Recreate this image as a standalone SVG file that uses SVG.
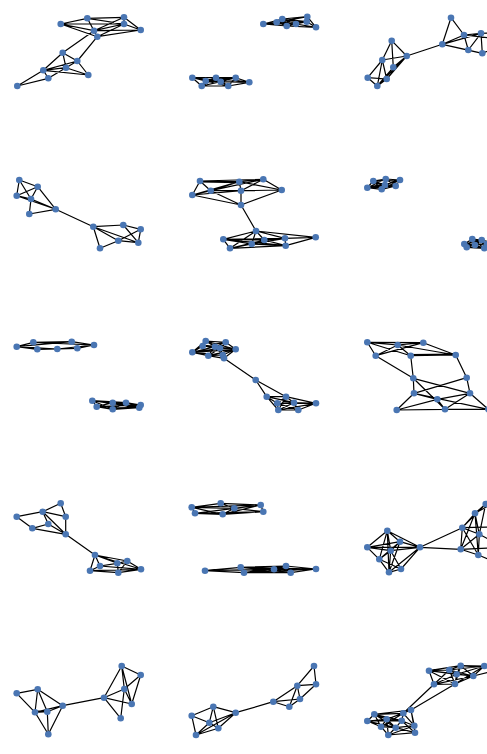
<svg xmlns="http://www.w3.org/2000/svg" width="487" height="754" viewBox="0 0 487 754">
<style>
.e{fill:none;stroke:#000;stroke-width:1.2}
circle{fill:#4a76b3}
</style>
<rect width="487" height="754" fill="#fff"/>
<g id="edges">
<path class="e" d="M60.7 24L87.3 18.3M60.7 24L94 30.7M60.7 24L97.3 36.7M60.7 24L124 24M87.3 18.3L124 17.3M87.3 18.3L94 30.7M87.3 18.3L124 24M124 17.3L124 24M124 17.3L140.7 30M124 17.3L94 30.7M124 24L140.7 30M124 24L94 30.7M124 24L97.3 36.7M140.7 30L97.3 36.7M94 30.7L97.3 36.7M140.7 30L94 30.7M94 30.7L62.7 52.7M97.3 36.7L77.3 61M62.7 52.7L77.3 61M62.7 52.7L43.3 70.3M62.7 52.7L66 67.7M77.3 61L43.3 70.3M77.3 61L66 67.7M77.3 61L88.3 75M43.3 70.3L66 67.7M43.3 70.3L88.3 75M43.3 70.3L48.3 78.3M66 67.7L88.3 75M66 67.7L48.3 78.3M48.3 78.3L17.3 86M43.3 70.3L17.3 86"/>
<path class="e" d="M263.3 24L276.7 22.3M263.3 24L282.3 19M263.3 24L286.7 26M263.3 24L296 24M276.7 22.3L282.3 19M276.7 22.3L286.7 26M276.7 22.3L296 24M276.7 22.3L307.3 16.7M282.3 19L307.3 16.7M282.3 19L306.7 21.7M282.3 19L296 24M286.7 26L296 24M286.7 26L316 27.3M286.7 26L306.7 21.7M296 24L306.7 21.7M296 24L316 27.3M307.3 16.7L306.7 21.7M307.3 16.7L316 27.3M306.7 21.7L316 27.3M282.3 19L286.7 26M276.7 22.3L306.7 21.7M192.3 77.7L205.7 81M192.3 77.7L201.7 86M192.3 77.7L216 77.7M192.3 77.7L220.7 81.7M205.7 81L201.7 86M205.7 81L216 77.7M205.7 81L220.7 81.7M205.7 81L228.3 86M201.7 86L228.3 86M201.7 86L220.7 81.7M201.7 86L216 77.7M216 77.7L220.7 81.7M216 77.7L235.7 77.7M216 77.7L228.3 86M220.7 81.7L235.7 77.7M220.7 81.7L228.3 86M228.3 86L249.3 82.3M235.7 77.7L249.3 82.3M220.7 81.7L249.3 82.3M216 77.7L249.3 82.3M228.3 86L235.7 77.7M205.7 81L235.7 77.7"/>
<path class="e" d="M451 17.7L442.3 44.3M451 17.7L464 35M442.3 44.3L464 35M442.3 44.3L481 33.3M442.3 44.3L468.3 50M442.3 44.3L482.3 53.3M464 35L481 33.3M464 35L468.3 50M468.3 50L481 33.3M481 33.3L482.3 53.3M468.3 50L482.3 53.3M464 35L490 38M481 33.3L490 33M482.3 53.3L490 50M391.7 40.7L406.7 56M391.7 40.7L382.3 60M391.7 40.7L393.3 67.3M382.3 60L406.7 56M382.3 60L367.7 77.7M382.3 60L377.3 86M382.3 60L386.7 79M367.7 77.7L386.7 79M367.7 77.7L377.3 86M377.3 86L386.7 79M377.3 86L406.7 56M386.7 79L406.7 56M393.3 67.3L406.7 56M393.3 67.3L377.3 86M406.7 56L442.3 44.3"/>
<path class="e" d="M19.3 180L37.7 186.7M19.3 180L16.7 195.7M19.3 180L31 199M37.7 186.7L16.7 195.7M37.7 186.7L31 199M37.7 186.7L55.7 209.3M16.7 195.7L31 199M16.7 195.7L55.7 209.3M31 199L29.3 214M31 199L55.7 209.3M29.3 214L55.7 209.3M55.7 209.3L93.3 226.7M93.3 226.7L123.3 225M93.3 226.7L118.3 240.7M93.3 226.7L100 248.3M93.3 226.7L138.3 242.7M100 248.3L118.3 240.7M118.3 240.7L138.3 242.7M118.3 240.7L140.7 229.3M123.3 225L140.7 229.3M123.3 225L138.3 242.7M140.7 229.3L138.3 242.7"/>
<path class="e" d="M200 181L239.3 181.7M200 182L239.3 182.7M200 181L263.3 179.3M200 181L192.3 195M200 181L210.7 190.7M239.3 181.7L263.3 179.3M239.3 181.7L210.7 190.7M239.3 181.7L241 190.7M239.3 181.7L281.7 190M263.3 179.3L281.7 190M263.3 179.3L210.7 190.7M263.3 179.3L241 190.7M192.3 195L210.7 190.7M192.3 195L241 190.7M192.3 195L241 205M210.7 190.7L241 190.7M210.7 190.7L241 205M241 190.7L241 205M281.7 190L241 205M241 190.7L281.7 190M192.3 195L239.3 181.7M241 205L256 231M256 231L223.3 239.3M256 231L230 248.3M256 231L251.7 244M256 231L264.3 240M256 231L285 238.3M256 231L315.7 237.3M223.3 239.3L230 248.3M223.3 239.3L251.7 244M223.3 239.3L264.3 240M223.3 239.3L285 238.3M230 248.3L251.7 244M230 248.3L285.7 245.7M230 248.3L264.3 240M251.7 244L264.3 240M251.7 244L285.7 245.7M251.7 244L285 238.3M264.3 240L285 238.3M264.3 240L285.7 245.7M285 238.3L285.7 245.7M285 238.3L315.7 237.3M285.7 245.7L315.7 237.3M223.3 239.3L285.7 245.7"/>
<path class="e" d="M367.3 187.7L373.3 181M367.3 187.7L381.7 189.3M367.3 187.7L385.7 179M367.3 187.7L385 185M367.3 187.7L395.7 186M367.3 187.7L400 180M373.3 181L381.7 189.3M373.3 181L385.7 179M373.3 181L385 185M373.3 181L395.7 186M373.3 181L400 180M381.7 189.3L385.7 179M381.7 189.3L385 185M381.7 189.3L395.7 186M381.7 189.3L400 180M385.7 179L385 185M385.7 179L395.7 186M385.7 179L400 180M385 185L395.7 186M385 185L400 180M395.7 186L400 180M464.3 244L466.7 247.3M464.3 244L472.3 239M464.3 244L475 245M464.3 244L481.7 240M464.3 244L484.3 248.3M464.3 244L487 244M466.7 247.3L472.3 239M466.7 247.3L475 245M466.7 247.3L481.7 240M466.7 247.3L484.3 248.3M472.3 239L475 245M472.3 239L481.7 240M472.3 239L484.3 248.3M472.3 239L487 244M475 245L481.7 240M475 245L484.3 248.3M475 245L487 244M481.7 240L484.3 248.3M481.7 240L490 242M484.3 248.3L490 247"/>
<path class="e" d="M16.7 346.7L33.3 342.3M16.7 346.7L37.3 349.3M16.7 346.7L71.7 341.7M33.3 342.3L71.7 341.7M33.3 342.3L94 345M37.3 349.3L57.3 349M37.3 349.3L77.3 348.3M57.3 349L77.3 348.3M57.3 349L94 345M71.7 341.7L94 345M77.3 348.3L94 345M16.7 346.7L57.3 349M92.3 400.7L96.7 406.7M92.3 400.7L112.7 402.7M92.3 400.7L112.7 409.3M92.3 400.7L126 402.7M92.3 400.7L140.7 405M96.7 406.7L112.7 402.7M96.7 406.7L112.7 409.3M96.7 406.7L139.3 407.7M96.7 406.7L140.7 405M112.7 402.7L112.7 409.3M112.7 402.7L126 402.7M112.7 402.7L140.7 405M112.7 402.7L139.3 407.7M112.7 409.3L126 402.7M112.7 409.3L139.3 407.7M112.7 409.3L140.7 405M126 402.7L140.7 405M126 402.7L139.3 407.7M140.7 405L139.3 407.7M92.3 400.7L139.3 407.7"/>
<path class="e" d="M192.3 352.3L202.7 346M192.3 352.3L205.7 341M192.3 352.3L208.3 355.7M192.3 352.3L215 346.7M192.3 352.3L222.7 355M192.3 352.3L220 348.3M192.3 352.3L235.7 349.3M202.7 346L205.7 341M202.7 346L215 346.7M202.7 346L225.7 342.3M202.7 346L220 348.3M205.7 341L225.7 342.3M205.7 341L215 346.7M205.7 341L220 348.3M208.3 355.7L215 346.7M208.3 355.7L222.7 355M208.3 355.7L224 358.3M208.3 355.7L220 348.3M215 346.7L222.7 355M215 346.7L225.7 342.3M215 346.7L220 348.3M215 346.7L235.7 349.3M222.7 355L235.7 349.3M222.7 355L224 358.3M222.7 355L220 348.3M225.7 342.3L235.7 349.3M225.7 342.3L220 348.3M220 348.3L235.7 349.3M220 348.3L224 358.3M235.7 349.3L224 358.3M205.7 341L235.7 349.3M208.3 355.7L235.7 349.3M224 358.3L255.7 380M255.7 380L266.7 396.7M255.7 380L286 396.7M266.7 396.7L277.3 403.3M266.7 396.7L278.3 410M266.7 396.7L286 396.7M266.7 396.7L294 402.7M286 396.7L277.3 403.3M286 396.7L294 402.7M286 396.7L316 403.3M286 396.7L278.3 410M277.3 403.3L294 402.7M277.3 403.3L278.3 410M277.3 403.3L298.3 410M277.3 403.3L316 403.3M294 402.7L278.3 410M294 402.7L298.3 410M294 402.7L316 403.3M278.3 410L298.3 410M298.3 410L316 403.3M278.3 410L316 403.3"/>
<path class="e" d="M367.3 342.3L397.7 345M367.3 342.3L423.3 342.7M367.3 342.3L375.7 355.7M367.3 342.3L410.7 355.7M397.7 345L375.7 355.7M397.7 345L423.3 342.7M397.7 345L410.7 355.7M397.7 345L455.7 355M423.3 342.7L375.7 355.7M423.3 342.7L455.7 355M410.7 355.7L455.7 355M410.7 354.7L455.7 354M375.7 355.7L413.3 378.3M410.7 355.7L413.3 378.3M455.7 355L466.7 377.7M413.3 378.3L414 393.3M413.3 378.3L470 393.3M413.3 378.3L445 409.3M466.7 377.7L414 393.3M466.7 377.7L470 393.3M414 393.3L437.3 399.3M414 393.3L396.7 410M414 393.3L488.3 409.3M437.3 399.3L470 393.3M437.3 399.3L396.7 410M437.3 399.3L445 409.3M470 393.3L445 409.3M470 393.3L488.3 409.3M396.7 410L445 409.3M445 409.3L488.3 409.3"/>
<path class="e" d="M16.7 516.7L42.7 511.7M16.7 516.7L32.3 528.3M42.7 511.7L60.7 503.3M42.7 511.7L65.7 516.7M42.7 511.7L48.3 524M42.7 511.7L65.7 534.3M60.7 503.3L65.7 516.7M65.7 516.7L65.7 534.3M32.3 528.3L48.3 524M32.3 528.3L65.7 534.3M48.3 524L65.7 534.3M65.7 534.3L95 555M95 555L100 566M95 555L90 570.7M95 555L117.3 563.3M95 555L127.3 561M95 555L141 569.3M90 570.7L100 566M90 570.7L118.3 572.7M100 566L117.3 563.3M100 566L141 569.3M117.3 563.3L127.3 561M117.3 563.3L118.3 572.7M127.3 561L141 569.3M127.3 561L118.3 572.7M118.3 572.7L141 569.3M90 570.7L141 569.3"/>
<path class="e" d="M191.7 507.3L195 513.3M191.7 507.3L220.7 503.3M191.7 507.3L222.7 514.3M191.7 507.3L234.3 508.3M195 513.3L222.7 514.3M195 513.3L234.3 508.3M220.7 503.3L234.3 508.3M220.7 503.3L260.7 505M222.7 514.3L234.3 508.3M222.7 514.3L263.3 511.7M222.7 514.3L260.7 505M234.3 508.3L260.7 505M234.3 508.3L263.3 511.7M260.7 505L263.3 511.7M195 513.3L263.3 511.7M191.7 507.3L260.7 505M205 570.7L240.7 567.3M205 570.7L244 572.7M205 570.7L274 569.3M240.7 567.3L244 572.7M240.7 567.3L274 569.3M240.7 567.3L286 566M240.7 567.3L290.7 572.7M240.7 567.3L316 569M244 572.7L274 569.3M244 572.7L290.7 572.7M244 572.7L286 566M274 569.3L286 566M274 569.3L290.7 572.7M274 569.3L316 569M286 566L290.7 572.7M286 566L316 569M290.7 572.7L316 569M244 572.7L316 569"/>
<path class="e" d="M367.3 547.3L387.3 530.7M367.3 547.3L400 541.7M367.3 547.3L390.7 550.7M367.3 547.3L379.3 559.3M367.3 547.3L420 547.3M387.3 530.7L400 541.7M387.3 530.7L390.7 550.7M387.3 530.7L379.3 559.3M387.3 530.7L389 572.3M387.3 530.7L420 547.3M400 541.7L390.7 550.7M400 541.7L420 547.3M400 541.7L389 572.3M400 541.7L379.3 559.3M390.7 550.7L379.3 559.3M390.7 550.7L389 572.3M390.7 550.7L401 569M390.7 550.7L420 547.3M379.3 559.3L389 572.3M379.3 559.3L401 569M389 572.3L401 569M389 572.3L420 547.3M401 569L420 547.3M420 547.3L462.3 527.7M420 547.3L460.7 549.3M462.3 527.7L475 513.3M462.3 527.7L485.7 504M462.3 527.7L479.3 534.3M462.3 527.7L460.7 549.3M462.3 527.7L478.3 555M462.3 527.7L490 527M475 513.3L485.7 504M475 513.3L479.3 534.3M475 513.3L460.7 549.3M475 513.3L478.3 555M485.7 504L479.3 534.3M479.3 534.3L460.7 549.3M479.3 534.3L478.3 555M460.7 549.3L478.3 555M479.3 534.3L490 540M478.3 555L490 560M460.7 549.3L490 548M475 513.3L490 505"/>
<path class="e" d="M16.7 693.3L37.7 689.3M16.7 693.3L35 712.3M37.7 689.3L35 712.3M37.7 689.3L47.3 711.7M37.7 689.3L62.7 705.7M35 712.3L47.3 711.7M35 711.3L47.3 710.7M35 712.3L62.7 705.7M35 712.3L48.3 734.3M47.3 711.7L62.7 705.7M47.3 711.7L48.3 734.3M62.7 705.7L48.3 734.3M62.7 705.7L104 697.7M104 697.7L121.7 666M104 697.7L124.3 689M104 697.7L131.7 704M104 697.7L120.7 718.3M121.7 666L140.7 675M121.7 666L124.3 689M121.7 666L131.7 704M140.7 675L124.3 689M140.7 675L131.7 704M124.3 689L131.7 704M124.3 689L120.7 718.3"/>
<path class="e" d="M191.7 715.7L213.3 706.7M191.7 715.7L209.3 722.7M191.7 715.7L196 735M213.3 706.7L235.7 712.7M213.3 706.7L209.3 722.7M213.3 706.7L218.3 728.3M209.3 722.7L235.7 712.7M209.3 722.7L196 735M209.3 722.7L218.3 728.3M196 735L218.3 728.3M196 735L235.7 712.7M218.3 728.3L235.7 712.7M235.7 712.7L273.3 701.7M273.3 701.7L289.3 706.7M273.3 701.7L300 699M273.3 701.7L297.3 685.7M289.3 706.7L297.3 685.7M289.3 706.7L300 699M297.3 685.7L314 666M297.3 685.7L316 684.3M314 666L316 684.3M300 699L297.3 685.7M300 699L316 684.3"/>
<path class="e" d="M429 670.7L449.3 670M429 670.7L460.7 665.7M429 670.7L456.7 674.3M429 670.7L473.3 676M429 670.7L434 684.3M429 670.7L455 684M449.3 670L460.7 665.7M449.3 670L456.7 674.3M449.3 670L473.3 676M449.3 670L484.3 666M449.3 670L434 684.3M449.3 670L455 684M460.7 665.7L456.7 674.3M460.7 665.7L473.3 676M460.7 665.7L484.3 666M460.7 665.7L455 684M456.7 674.3L473.3 676M456.7 674.3L484.3 666M456.7 674.3L434 684.3M456.7 674.3L455 684M473.3 676L484.3 666M473.3 676L434 684.3M473.3 676L455 684M484.3 666L455 684M434 684.3L455 684M460.7 665.7L490 668M473.3 676L490 672M484.3 666L490 664M434 684.3L403.3 713.3M455 684L411 710M403.3 713.3L411 710M403.3 713.3L374.3 714.3M403.3 713.3L386.7 719.3M403.3 713.3L401.7 720.7M403.3 713.3L414.3 725.7M403.3 713.3L381 726.7M411 710L374.3 714.3M411 710L386.7 719.3M411 710L414.3 725.7M411 710L415 732.7M374.3 714.3L367.3 721M374.3 714.3L386.7 719.3M374.3 714.3L401.7 720.7M374.3 714.3L381 726.7M374.3 714.3L395.7 727.7M367.3 721L386.7 719.3M367.3 721L381 726.7M367.3 721L401.7 720.7M386.7 719.3L401.7 720.7M386.7 719.3L381 726.7M386.7 719.3L395.7 727.7M386.7 719.3L388.3 735M401.7 720.7L395.7 727.7M401.7 720.7L414.3 725.7M401.7 720.7L415 732.7M381 726.7L395.7 727.7M381 726.7L388.3 735M395.7 727.7L414.3 725.7M395.7 727.7L388.3 735M395.7 727.7L415 732.7M414.3 725.7L415 732.7M388.3 735L415 732.7M388.3 735L414.3 725.7M367.3 721L395.7 727.7"/>
</g>
<g id="p1">
<g id="p1a"><circle cx="60.7" cy="24" r="3.3"/></g>
<g id="p1b"><circle cx="87.3" cy="18.3" r="3.3"/></g>
<g id="p1c"><circle cx="124" cy="17.3" r="3.3"/></g>
<g id="p1d"><circle cx="124" cy="24" r="3.3"/></g>
<g id="p1e"><circle cx="140.7" cy="30" r="3.3"/></g>
<g id="p1f"><circle cx="94" cy="30.7" r="3.3"/></g>
<g id="p1g"><circle cx="97.3" cy="36.7" r="3.3"/></g>
<g id="p1h"><circle cx="62.7" cy="52.7" r="3.3"/></g>
<g id="p1i"><circle cx="77.3" cy="61" r="3.3"/></g>
<g id="p1j"><circle cx="43.3" cy="70.3" r="3.3"/></g>
<g id="p1k"><circle cx="66" cy="67.7" r="3.3"/></g>
<g id="p1l"><circle cx="48.3" cy="78.3" r="3.3"/></g>
<g id="p1m"><circle cx="88.3" cy="75" r="3.3"/></g>
<g id="p1n"><circle cx="17.3" cy="86" r="3.3"/></g>
</g>
<g id="p2">
<g id="p2a"><circle cx="263.3" cy="24" r="3.3"/></g>
<g id="p2b"><circle cx="276.7" cy="22.3" r="3.3"/></g>
<g id="p2c"><circle cx="282.3" cy="19" r="3.3"/></g>
<g id="p2d"><circle cx="286.7" cy="26" r="3.3"/></g>
<g id="p2e"><circle cx="296" cy="24" r="3.3"/></g>
<g id="p2f"><circle cx="307.3" cy="16.7" r="3.3"/></g>
<g id="p2g"><circle cx="306.7" cy="21.7" r="3.3"/></g>
<g id="p2h"><circle cx="316" cy="27.3" r="3.3"/></g>
<g id="p2i"><circle cx="192.3" cy="77.7" r="3.3"/></g>
<g id="p2j"><circle cx="205.7" cy="81" r="3.3"/></g>
<g id="p2k"><circle cx="201.7" cy="86" r="3.3"/></g>
<g id="p2l"><circle cx="216" cy="77.7" r="3.3"/></g>
<g id="p2m"><circle cx="220.7" cy="81.7" r="3.3"/></g>
<g id="p2n"><circle cx="228.3" cy="86" r="3.3"/></g>
<g id="p2o"><circle cx="235.7" cy="77.7" r="3.3"/></g>
<g id="p2p"><circle cx="249.3" cy="82.3" r="3.3"/></g>
</g>
<g id="p3">
<g id="p3a"><circle cx="451" cy="17.7" r="3.3"/></g>
<g id="p3b"><circle cx="442.3" cy="44.3" r="3.3"/></g>
<g id="p3c"><circle cx="464" cy="35" r="3.3"/></g>
<g id="p3d"><circle cx="481" cy="33.3" r="3.3"/></g>
<g id="p3e"><circle cx="468.3" cy="50" r="3.3"/></g>
<g id="p3f"><circle cx="482.3" cy="53.3" r="3.3"/></g>
<g id="p3h"><circle cx="391.7" cy="40.7" r="3.3"/></g>
<g id="p3i"><circle cx="406.7" cy="56" r="3.3"/></g>
<g id="p3j"><circle cx="382.3" cy="60" r="3.3"/></g>
<g id="p3k"><circle cx="393.3" cy="67.3" r="3.3"/></g>
<g id="p3l"><circle cx="367.7" cy="77.7" r="3.3"/></g>
<g id="p3m"><circle cx="386.7" cy="79" r="3.3"/></g>
<g id="p3n"><circle cx="377.3" cy="86" r="3.3"/></g>
</g>
<g id="p4">
<g id="p4a"><circle cx="19.3" cy="180" r="3.3"/></g>
<g id="p4b"><circle cx="37.7" cy="186.7" r="3.3"/></g>
<g id="p4c"><circle cx="16.7" cy="195.7" r="3.3"/></g>
<g id="p4d"><circle cx="31" cy="199" r="3.3"/></g>
<g id="p4e"><circle cx="29.3" cy="214" r="3.3"/></g>
<g id="p4f"><circle cx="55.7" cy="209.3" r="3.3"/></g>
<g id="p4g"><circle cx="93.3" cy="226.7" r="3.3"/></g>
<g id="p4h"><circle cx="123.3" cy="225" r="3.3"/></g>
<g id="p4i"><circle cx="140.7" cy="229.3" r="3.3"/></g>
<g id="p4j"><circle cx="118.3" cy="240.7" r="3.3"/></g>
<g id="p4k"><circle cx="138.3" cy="242.7" r="3.3"/></g>
<g id="p4l"><circle cx="100" cy="248.3" r="3.3"/></g>
</g>
<g id="p5">
<g id="p5a"><circle cx="200" cy="181" r="3.3"/></g>
<g id="p5b"><circle cx="239.3" cy="181.7" r="3.3"/></g>
<g id="p5c"><circle cx="263.3" cy="179.3" r="3.3"/></g>
<g id="p5d"><circle cx="281.7" cy="190" r="3.3"/></g>
<g id="p5e"><circle cx="192.3" cy="195" r="3.3"/></g>
<g id="p5f"><circle cx="210.7" cy="190.7" r="3.3"/></g>
<g id="p5g"><circle cx="241" cy="190.7" r="3.3"/></g>
<g id="p5h"><circle cx="241" cy="205" r="3.3"/></g>
<g id="p5i"><circle cx="256" cy="231" r="3.3"/></g>
<g id="p5j"><circle cx="223.3" cy="239.3" r="3.3"/></g>
<g id="p5k"><circle cx="230" cy="248.3" r="3.3"/></g>
<g id="p5l"><circle cx="251.7" cy="244" r="3.3"/></g>
<g id="p5m"><circle cx="264.3" cy="240" r="3.3"/></g>
<g id="p5n"><circle cx="285" cy="238.3" r="3.3"/></g>
<g id="p5o"><circle cx="285.7" cy="245.7" r="3.3"/></g>
<g id="p5p"><circle cx="315.7" cy="237.3" r="3.3"/></g>
</g>
<g id="p6">
<g id="p6a"><circle cx="367.3" cy="187.7" r="3.3"/></g>
<g id="p6b"><circle cx="373.3" cy="181" r="3.3"/></g>
<g id="p6c"><circle cx="381.7" cy="189.3" r="3.3"/></g>
<g id="p6d"><circle cx="385.7" cy="179" r="3.3"/></g>
<g id="p6e"><circle cx="385" cy="185" r="3.3"/></g>
<g id="p6f"><circle cx="395.7" cy="186" r="3.3"/></g>
<g id="p6g"><circle cx="400" cy="180" r="3.3"/></g>
<g id="p6h"><circle cx="464.3" cy="244" r="3.3"/></g>
<g id="p6i"><circle cx="466.7" cy="247.3" r="3.3"/></g>
<g id="p6j"><circle cx="472.3" cy="239" r="3.3"/></g>
<g id="p6k"><circle cx="475" cy="245" r="3.3"/></g>
<g id="p6l"><circle cx="481.7" cy="240" r="3.3"/></g>
<g id="p6m"><circle cx="484.3" cy="248.3" r="3.3"/></g>
<g id="p6n"><circle cx="487" cy="244" r="3.3"/></g>
</g>
<g id="p7">
<g id="p7a"><circle cx="16.7" cy="346.7" r="3.3"/></g>
<g id="p7b"><circle cx="33.3" cy="342.3" r="3.3"/></g>
<g id="p7c"><circle cx="37.3" cy="349.3" r="3.3"/></g>
<g id="p7d"><circle cx="57.3" cy="349" r="3.3"/></g>
<g id="p7e"><circle cx="71.7" cy="341.7" r="3.3"/></g>
<g id="p7f"><circle cx="77.3" cy="348.3" r="3.3"/></g>
<g id="p7g"><circle cx="94" cy="345" r="3.3"/></g>
<g id="p7h"><circle cx="92.3" cy="400.7" r="3.3"/></g>
<g id="p7i"><circle cx="96.7" cy="406.7" r="3.3"/></g>
<g id="p7j"><circle cx="112.7" cy="402.7" r="3.3"/></g>
<g id="p7k"><circle cx="112.7" cy="409.3" r="3.3"/></g>
<g id="p7l"><circle cx="126" cy="402.7" r="3.3"/></g>
<g id="p7m"><circle cx="140.7" cy="405" r="3.3"/></g>
<g id="p7n"><circle cx="139.3" cy="407.7" r="3.3"/></g>
</g>
<g id="p8">
<g id="p8a"><circle cx="192.3" cy="352.3" r="3.3"/></g>
<g id="p8b"><circle cx="202.7" cy="346" r="3.3"/></g>
<g id="p8c"><circle cx="205.7" cy="341" r="3.3"/></g>
<g id="p8d"><circle cx="208.3" cy="355.7" r="3.3"/></g>
<g id="p8e"><circle cx="215" cy="346.7" r="3.3"/></g>
<g id="p8f"><circle cx="222.7" cy="355" r="3.3"/></g>
<g id="p8g"><circle cx="225.7" cy="342.3" r="3.3"/></g>
<g id="p8h"><circle cx="220" cy="348.3" r="3.3"/></g>
<g id="p8i"><circle cx="235.7" cy="349.3" r="3.3"/></g>
<g id="p8j"><circle cx="224" cy="358.3" r="3.3"/></g>
<g id="p8k"><circle cx="255.7" cy="380" r="3.3"/></g>
<g id="p8l"><circle cx="266.7" cy="396.7" r="3.3"/></g>
<g id="p8m"><circle cx="286" cy="396.7" r="3.3"/></g>
<g id="p8n"><circle cx="277.3" cy="403.3" r="3.3"/></g>
<g id="p8o"><circle cx="294" cy="402.7" r="3.3"/></g>
<g id="p8p"><circle cx="278.3" cy="410" r="3.3"/></g>
<g id="p8q"><circle cx="298.3" cy="410" r="3.3"/></g>
<g id="p8r"><circle cx="316" cy="403.3" r="3.3"/></g>
</g>
<g id="p9">
<g id="p9a"><circle cx="367.3" cy="342.3" r="3.3"/></g>
<g id="p9b"><circle cx="397.7" cy="345" r="3.3"/></g>
<g id="p9c"><circle cx="423.3" cy="342.7" r="3.3"/></g>
<g id="p9d"><circle cx="375.7" cy="355.7" r="3.3"/></g>
<g id="p9e"><circle cx="410.7" cy="355.7" r="3.3"/></g>
<g id="p9f"><circle cx="455.7" cy="355" r="3.3"/></g>
<g id="p9g"><circle cx="413.3" cy="378.3" r="3.3"/></g>
<g id="p9h"><circle cx="466.7" cy="377.7" r="3.3"/></g>
<g id="p9i"><circle cx="414" cy="393.3" r="3.3"/></g>
<g id="p9j"><circle cx="437.3" cy="399.3" r="3.3"/></g>
<g id="p9k"><circle cx="470" cy="393.3" r="3.3"/></g>
<g id="p9l"><circle cx="396.7" cy="410" r="3.3"/></g>
<g id="p9m"><circle cx="445" cy="409.3" r="3.3"/></g>
<g id="p9n"><circle cx="488.3" cy="409.3" r="3.3"/></g>
</g>
<g id="p10">
<g id="p10a"><circle cx="16.7" cy="516.7" r="3.3"/></g>
<g id="p10b"><circle cx="42.7" cy="511.7" r="3.3"/></g>
<g id="p10c"><circle cx="60.7" cy="503.3" r="3.3"/></g>
<g id="p10d"><circle cx="65.7" cy="516.7" r="3.3"/></g>
<g id="p10e"><circle cx="32.3" cy="528.3" r="3.3"/></g>
<g id="p10f"><circle cx="48.3" cy="524" r="3.3"/></g>
<g id="p10g"><circle cx="65.7" cy="534.3" r="3.3"/></g>
<g id="p10h"><circle cx="95" cy="555" r="3.3"/></g>
<g id="p10i"><circle cx="100" cy="566" r="3.3"/></g>
<g id="p10j"><circle cx="90" cy="570.7" r="3.3"/></g>
<g id="p10k"><circle cx="117.3" cy="563.3" r="3.3"/></g>
<g id="p10l"><circle cx="127.3" cy="561" r="3.3"/></g>
<g id="p10m"><circle cx="118.3" cy="572.7" r="3.3"/></g>
<g id="p10n"><circle cx="141" cy="569.3" r="3.3"/></g>
</g>
<g id="p11">
<g id="p11a"><circle cx="191.7" cy="507.3" r="3.3"/></g>
<g id="p11b"><circle cx="195" cy="513.3" r="3.3"/></g>
<g id="p11c"><circle cx="220.7" cy="503.3" r="3.3"/></g>
<g id="p11d"><circle cx="222.7" cy="514.3" r="3.3"/></g>
<g id="p11e"><circle cx="234.3" cy="508.3" r="3.3"/></g>
<g id="p11f"><circle cx="260.7" cy="505" r="3.3"/></g>
<g id="p11g"><circle cx="263.3" cy="511.7" r="3.3"/></g>
<g id="p11h"><circle cx="205" cy="570.7" r="3.3"/></g>
<g id="p11i"><circle cx="240.7" cy="567.3" r="3.3"/></g>
<g id="p11j"><circle cx="244" cy="572.7" r="3.3"/></g>
<g id="p11k"><circle cx="274" cy="569.3" r="3.3"/></g>
<g id="p11l"><circle cx="286" cy="566" r="3.3"/></g>
<g id="p11m"><circle cx="290.7" cy="572.7" r="3.3"/></g>
<g id="p11n"><circle cx="316" cy="569" r="3.3"/></g>
</g>
<g id="p12">
<g id="p12a"><circle cx="367.3" cy="547.3" r="3.3"/></g>
<g id="p12b"><circle cx="387.3" cy="530.7" r="3.3"/></g>
<g id="p12c"><circle cx="400" cy="541.7" r="3.3"/></g>
<g id="p12d"><circle cx="390.7" cy="550.7" r="3.3"/></g>
<g id="p12e"><circle cx="379.3" cy="559.3" r="3.3"/></g>
<g id="p12f"><circle cx="389" cy="572.3" r="3.3"/></g>
<g id="p12g"><circle cx="401" cy="569" r="3.3"/></g>
<g id="p12h"><circle cx="420" cy="547.3" r="3.3"/></g>
<g id="p12i"><circle cx="462.3" cy="527.7" r="3.3"/></g>
<g id="p12j"><circle cx="475" cy="513.3" r="3.3"/></g>
<g id="p12k"><circle cx="485.7" cy="504" r="3.3"/></g>
<g id="p12l"><circle cx="479.3" cy="534.3" r="3.3"/></g>
<g id="p12m"><circle cx="460.7" cy="549.3" r="3.3"/></g>
<g id="p12n"><circle cx="478.3" cy="555" r="3.3"/></g>
</g>
<g id="p13">
<g id="p13a"><circle cx="16.7" cy="693.3" r="3.3"/></g>
<g id="p13b"><circle cx="37.7" cy="689.3" r="3.3"/></g>
<g id="p13c"><circle cx="35" cy="712.3" r="3.3"/></g>
<g id="p13d"><circle cx="47.3" cy="711.7" r="3.3"/></g>
<g id="p13e"><circle cx="62.7" cy="705.7" r="3.3"/></g>
<g id="p13f"><circle cx="48.3" cy="734.3" r="3.3"/></g>
<g id="p13g"><circle cx="104" cy="697.7" r="3.3"/></g>
<g id="p13h"><circle cx="121.7" cy="666" r="3.3"/></g>
<g id="p13i"><circle cx="140.7" cy="675" r="3.3"/></g>
<g id="p13j"><circle cx="124.3" cy="689" r="3.3"/></g>
<g id="p13k"><circle cx="131.7" cy="704" r="3.3"/></g>
<g id="p13l"><circle cx="120.7" cy="718.3" r="3.3"/></g>
</g>
<g id="p14">
<g id="p14a"><circle cx="191.7" cy="715.7" r="3.3"/></g>
<g id="p14b"><circle cx="213.3" cy="706.7" r="3.3"/></g>
<g id="p14c"><circle cx="209.3" cy="722.7" r="3.3"/></g>
<g id="p14d"><circle cx="218.3" cy="728.3" r="3.3"/></g>
<g id="p14e"><circle cx="196" cy="735" r="3.3"/></g>
<g id="p14f"><circle cx="235.7" cy="712.7" r="3.3"/></g>
<g id="p14g"><circle cx="273.3" cy="701.7" r="3.3"/></g>
<g id="p14h"><circle cx="289.3" cy="706.7" r="3.3"/></g>
<g id="p14i"><circle cx="300" cy="699" r="3.3"/></g>
<g id="p14j"><circle cx="297.3" cy="685.7" r="3.3"/></g>
<g id="p14k"><circle cx="314" cy="666" r="3.3"/></g>
<g id="p14l"><circle cx="316" cy="684.3" r="3.3"/></g>
</g>
<g id="p15">
<g id="p15a"><circle cx="429" cy="670.7" r="3.3"/></g>
<g id="p15b"><circle cx="449.3" cy="670" r="3.3"/></g>
<g id="p15c"><circle cx="460.7" cy="665.7" r="3.3"/></g>
<g id="p15d"><circle cx="456.7" cy="674.3" r="3.3"/></g>
<g id="p15e"><circle cx="473.3" cy="676" r="3.3"/></g>
<g id="p15f"><circle cx="484.3" cy="666" r="3.3"/></g>
<g id="p15g"><circle cx="434" cy="684.3" r="3.3"/></g>
<g id="p15h"><circle cx="455" cy="684" r="3.3"/></g>
<g id="p15i"><circle cx="403.3" cy="713.3" r="3.3"/></g>
<g id="p15j"><circle cx="411" cy="710" r="3.3"/></g>
<g id="p15k"><circle cx="374.3" cy="714.3" r="3.3"/></g>
<g id="p15l"><circle cx="367.3" cy="721" r="3.3"/></g>
<g id="p15m"><circle cx="386.7" cy="719.3" r="3.3"/></g>
<g id="p15n"><circle cx="401.7" cy="720.7" r="3.3"/></g>
<g id="p15o"><circle cx="381" cy="726.7" r="3.3"/></g>
<g id="p15p"><circle cx="395.7" cy="727.7" r="3.3"/></g>
<g id="p15q"><circle cx="414.3" cy="725.7" r="3.3"/></g>
<g id="p15r"><circle cx="388.3" cy="735" r="3.3"/></g>
<g id="p15s"><circle cx="415" cy="732.7" r="3.3"/></g>
</g>
</svg>
